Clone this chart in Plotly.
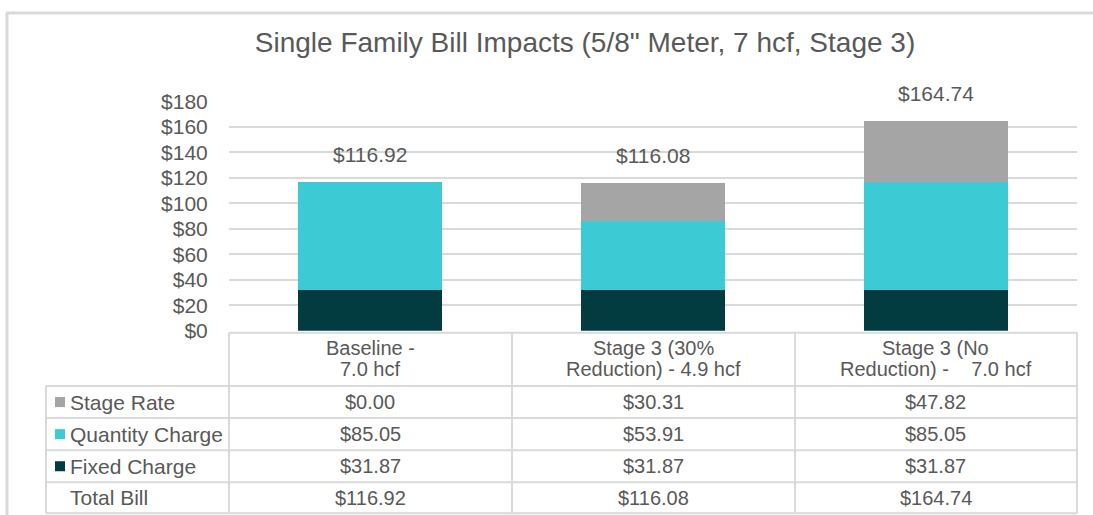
import plotly.graph_objects as go

# ---------------- data ----------------
categories = ["Baseline -<br>7.0 hcf",
              "Stage 3 (30%<br>Reduction) - 4.9 hcf",
              "Stage 3 (No<br>Reduction) -\u00a0\u00a0\u00a0 7.0 hcf"]
series_names = ["Stage Rate", "Quantity Charge", "Fixed Charge"]
stage_rate = [0.00, 30.31, 47.82]
quantity_charge = [85.05, 53.91, 85.05]
fixed_charge = [31.87, 31.87, 31.87]
total_bill = [116.92, 116.08, 164.74]
y_ticks = [0, 20, 40, 60, 80, 100, 120, 140, 160, 180]
y_tick_labels = ["$" + str(v) for v in y_ticks]

# ---------------- styling ----------------
W, H = 1093, 530
FONT = "Liberation Sans, Arial, sans-serif"
TXT = "#595959"
GRID = "#D9D9D9"
colors = {"Stage Rate": "#A5A5A5", "Quantity Charge": "#3CCAD5", "Fixed Charge": "#023B40"}

# vertical calibration of the page photograph
V_OFF, V_SCALE = 12.0, 0.954

def px(x):
    return x / W

def fy(y):
    return (y - V_OFF) / V_SCALE

def py(y):
    return 1 - fy(y) / H

PLOT_L, PLOT_R = 229, 1077
PLOT_T, PLOT_B = 101, 330

fig = go.Figure()
# stacked bottom -> top
for name, vals in [("Fixed Charge", fixed_charge), ("Quantity Charge", quantity_charge), ("Stage Rate", stage_rate)]:
    fig.add_trace(go.Bar(x=categories, y=vals, name=name, marker=dict(color=colors[name], line=dict(width=0)),
                         width=0.51, showlegend=False, hoverinfo="skip"))

fig.update_layout(
    barmode="stack",
    width=W, height=H, autosize=False,
    margin=dict(l=0, r=0, t=0, b=0),
    paper_bgcolor="white", plot_bgcolor="white",
    font=dict(family=FONT, color=TXT, size=21),
    title=dict(text='Single Family Bill Impacts (5/8" Meter, 7 hcf, Stage 3)',
               x=px(585), y=1 - 42 / H, xanchor="center", yanchor="middle",
               font=dict(size=28, color=TXT, family=FONT)),
    xaxis=dict(domain=[px(PLOT_L), px(PLOT_R)], showticklabels=False, showgrid=False,
               zeroline=False, showline=False, fixedrange=True),
    yaxis=dict(domain=[py(PLOT_B), py(PLOT_T)], range=[0, 180], tickvals=y_ticks, ticktext=y_tick_labels,
               showgrid=True, gridcolor=GRID, gridwidth=1.5, zeroline=False, showline=False,
               ticks="outside", ticklen=16, tickcolor="rgba(0,0,0,0)",
               tickfont=dict(size=21, color=TXT, family=FONT), fixedrange=True),
)

annotations = []
# total labels above the bars
for c, t in zip(categories, total_bill):
    annotations.append(dict(x=c, y=t, xref="x", yref="y", text=f"${t:.2f}", showarrow=False,
                            yshift=27, font=dict(size=21, color=TXT, family=FONT)))

# data table
ROW_Y = [332, 385, 417, 449, 481, 512]
COL_X = [46, 229, 512, 795, 1077]
shapes = []
line_style = dict(color=GRID, width=2)
# header row border (only over the value columns)
shapes.append(dict(type="line", xref="paper", yref="paper", x0=px(COL_X[1]), x1=px(COL_X[-1]),
                   y0=py(ROW_Y[0]), y1=py(ROW_Y[0]), line=line_style))
for yy in ROW_Y[1:]:
    shapes.append(dict(type="line", xref="paper", yref="paper", x0=px(COL_X[0]), x1=px(COL_X[-1]),
                       y0=py(yy), y1=py(yy), line=line_style))
shapes.append(dict(type="line", xref="paper", yref="paper", x0=px(COL_X[0]), x1=px(COL_X[0]),
                   y0=py(ROW_Y[1]), y1=py(ROW_Y[-1]), line=line_style))
for xx in COL_X[1:]:
    shapes.append(dict(type="line", xref="paper", yref="paper", x0=px(xx), x1=px(xx),
                       y0=py(ROW_Y[0]), y1=py(ROW_Y[-1]), line=line_style))

# outer chart border (top and left)
shapes.append(dict(type="line", xref="paper", yref="paper", x0=px(6), x1=1, y0=1 - 1.0 / H, y1=1 - 1.0 / H,
                   line=dict(color=GRID, width=3)))
shapes.append(dict(type="line", xref="paper", yref="paper", x0=px(7), x1=px(7), y0=1 - 1.0 / H, y1=0,
                   line=dict(color=GRID, width=3)))

# header (category names), one annotation per text line for tighter spacing
HEADER_LINE_Y = [347, 368]
for c in categories:
    for k, part in enumerate(c.split("<br>")):
        annotations.append(dict(x=c, y=py(HEADER_LINE_Y[k]), xref="x", yref="paper", text=part,
                                showarrow=False, yanchor="middle", font=dict(size=20, color=TXT, family=FONT)))

row_series = [("Stage Rate", stage_rate), ("Quantity Charge", quantity_charge),
              ("Fixed Charge", fixed_charge), ("Total Bill", total_bill)]
for i, (name, vals) in enumerate(row_series):
    yc = (ROW_Y[i + 1] + ROW_Y[i + 2]) / 2
    if name in colors:
        shapes.append(dict(type="rect", xref="paper", yref="paper", x0=px(55), x1=px(65),
                           y0=py(yc + 5), y1=py(yc - 5), fillcolor=colors[name], line=dict(width=0)))
    annotations.append(dict(x=px(68), y=py(yc), xref="paper", yref="paper",
                            text=name, showarrow=False, xanchor="left", yanchor="middle",
                            font=dict(size=21, color=TXT, family=FONT)))
    for c, v in zip(categories, vals):
        annotations.append(dict(x=c, y=py(yc), xref="x", yref="paper", text=f"${v:.2f}",
                                showarrow=False, yanchor="middle", font=dict(size=20, color=TXT, family=FONT)))

fig.update_layout(annotations=annotations, shapes=shapes)
fig.write_html("out.html", config={"displayModeBar": False},
               post_script="document.body.style.margin='0';"
                           "document.documentElement.style.overflow='hidden';"
                           "document.body.style.overflow='hidden';")
